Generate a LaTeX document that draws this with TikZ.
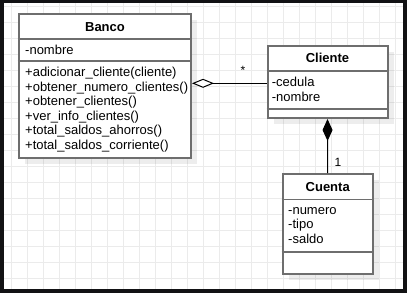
\documentclass[tikz,border=0pt]{standalone}
\usepackage{fontspec}
\setmainfont{Liberation Sans}
\usetikzlibrary{arrows.meta,shadows}
\definecolor{frame}{HTML}{121214}
\definecolor{gridc}{HTML}{EBEBEB}
\definecolor{boxc}{HTML}{6E6E6E}
\begin{document}
\begin{tikzpicture}[x=1pt,y=-1pt,
  classbox/.style={draw=boxc,line width=2pt,fill=white,inner sep=0pt,
    drop shadow={opacity=0.07,fill=black,shadow xshift=6pt,shadow yshift=-6pt}},
  sep/.style={draw=boxc,line width=1.6pt},
  txt/.style={font=\fontsize{13}{15}\selectfont,inner sep=0pt,anchor=base west},
  ttl/.style={font=\fontsize{13}{15}\selectfont\bfseries,inner sep=0pt,anchor=base},
  lbl/.style={font=\fontsize{12}{14}\selectfont,inner sep=0pt,anchor=base},
  conn/.style={draw=black,line width=1pt}]
  % frame and canvas
  \fill[frame] (0,0) rectangle (407,293);
  \useasboundingbox (0,0) rectangle (407,293);
  \fill[white] (4,3) rectangle (403,289);
  \foreach \x in {11.7,27.7,...,400} \draw[gridc,line width=0.9pt] (\x,3) -- (\x,289);
  \foreach \y in {6.7,22.7,...,288} \draw[gridc,line width=0.9pt] (4,\y) -- (403,\y);

  % Banco
  \node[classbox,minimum width=172.5pt,minimum height=144pt] (banco) at (104.75,86) {};
  \draw[sep] (banco.west |- 0,39) -- (banco.east |- 0,39);
  \draw[sep] (banco.west |- 0,61) -- (banco.east |- 0,61);
  \node[ttl] (bancot) at (105,31) {Banco};
  \node[txt] (banco1) at (25,54.5) {-nombre};
  \node[txt] (banco2) at (25,76.5) {+adicionar\_cliente(cliente)};
  \node[txt] (banco3) at (25,91) {+obtener\_numero\_clientes()};
  \node[txt] (banco4) at (25,105.5) {+obtener\_clientes()};
  \node[txt] (banco5) at (25,120) {+ver\_info\_clientes()};
  \node[txt] (banco6) at (25,134.5) {+total\_saldos\_ahorros()};
  \node[txt] (banco7) at (25,149) {+total\_saldos\_corriente()};

  % Cliente
  \node[classbox,minimum width=120pt,minimum height=72pt] (cliente) at (327.5,82) {};
  \draw[sep] (cliente.west |- 0,71) -- (cliente.east |- 0,71);
  \draw[sep] (cliente.west |- 0,109) -- (cliente.east |- 0,109);
  \node[ttl] (clientet) at (327.5,62.7) {Cliente};
  \node[txt] (cliente1) at (271.7,86) {-cedula};
  \node[txt] (cliente2) at (271.7,101) {-nombre};

  % Cuenta
  \node[classbox,minimum width=90pt,minimum height=100pt] (cuenta) at (327.7,224) {};
  \draw[sep] (cuenta.west |- 0,199.3) -- (cuenta.east |- 0,199.3);
  \draw[sep] (cuenta.west |- 0,252) -- (cuenta.east |- 0,252);
  \node[ttl] (cuentat) at (327.7,191) {Cuenta};
  \node[txt] (cuenta1) at (288,214) {-numero};
  \node[txt] (cuenta2) at (288,228.7) {-tipo};
  \node[txt] (cuenta3) at (288,243.3) {-saldo};

  % aggregation Banco <>-- Cliente
  \coordinate (agg) at (banco.east |- 0,83.3);
  \draw[conn,-{Diamond[fill=white,length=22pt,width=9pt,line width=1pt]}] (cliente.west |- agg) -- (agg);
  \node[lbl] (many) at (243,74) {*};

  % composition Cliente <#>-- Cuenta
  \draw[conn,-{Diamond[fill=black,length=22pt,width=10pt]}] (cuenta.north) -- (cliente.south);
  \node[lbl] (one) at (338,166.7) {1};
\end{tikzpicture}
\end{document}
